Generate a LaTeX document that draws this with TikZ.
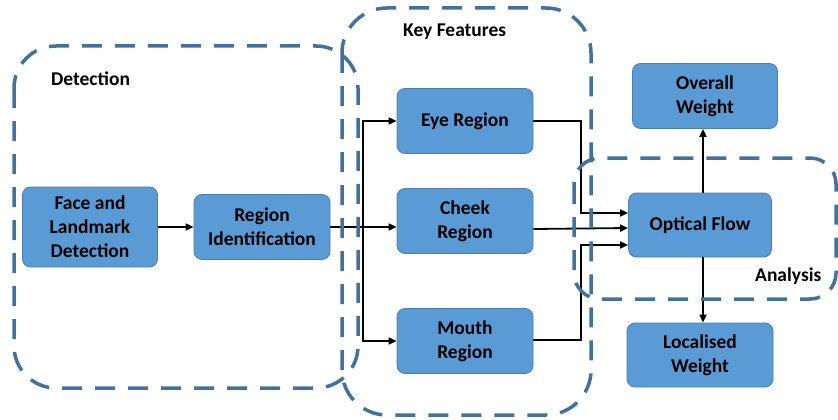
\documentclass[tikz,border=0pt]{standalone}
\usepackage{fontspec}
\setmainfont{Carlito}
\usetikzlibrary{arrows.meta}
\definecolor{boxfill}{HTML}{5B9BD5}
\definecolor{boxedge}{HTML}{4A7EB0}
\definecolor{groupedge}{HTML}{41719C}
\begin{document}
\begin{tikzpicture}[x=1pt,y=-1pt,
  stage/.style={draw=boxedge, line width=0.8pt, fill=boxfill, rounded corners=8pt,
    align=center, font=\fontsize{19.5}{24}\selectfont\bfseries, inner sep=0pt},
  group/.style={draw=groupedge, line width=3.5pt, dash pattern=on 20pt off 13pt},
  flow/.style={draw=black, line width=1.8pt, -{Triangle[length=8pt,width=7pt]}},
  grouplabel/.style={font=\fontsize{19.5}{24}\selectfont\bfseries, inner sep=0pt}]
\useasboundingbox (0,0) rectangle (838,420);

% processing stages
\node[stage, minimum width=135pt, minimum height=80pt] (face) at (90,227) {Face and\\Landmark\\Detection};
\node[stage, minimum width=136pt, minimum height=65pt] (ident) at (262,227) {Region\\Identification};
\node[stage, minimum width=136pt, minimum height=65pt] (eye) at (465,121) {Eye Region};
\node[stage, minimum width=136pt, minimum height=65pt] (cheek) at (465,221) {Cheek\\Region};
\node[stage, minimum width=136pt, minimum height=65pt] (mouth) at (465,341) {Mouth\\Region};
\node[stage, minimum width=143pt, minimum height=64pt] (optic) at (700,225) {Optical Flow};
\node[stage, minimum width=145pt, minimum height=65pt] (overall) at (705,96) {Overall\\Weight};
\node[stage, minimum width=146pt, minimum height=64pt] (local) at (700,355) {Localised\\Weight};

% branch points
\coordinate (split) at (363,227);
\coordinate (mergeA) at (581,121);
\coordinate (mergeB) at (581,340);

% connectors
\draw[flow] (face.east) -- (ident.east -| ident.west);
\draw[flow] (ident.east) -- (ident.east -| cheek.west);
\draw[flow] (split) |- (eye.west);
\draw[flow] (split) |- (mouth.west);
\draw[flow] (eye.east) -- (mergeA) |- ([yshift=12pt]optic.west);
\draw[flow] ([yshift=-8pt]cheek.east) -- ([yshift=-3pt]optic.west);
\draw[flow] (mouth.east |- mergeB) -- (mergeB) |- ([yshift=-20pt]optic.west);
\draw[flow] (optic.north -| 703,0) -- (overall.south -| 703,0);
\draw[flow] (optic.south -| 703,0) -- (local.north -| 703,0);

% dashed groupings
\draw[group, rounded corners=42pt] (14,46) rectangle (358,388);
\draw[group, rounded corners=45pt] (342,8) rectangle (591,415);
\draw[group, rounded corners=26pt] (574,158) rectangle (836,299);

\node[grouplabel, anchor=west] (detlabel) at (51,79) {Detection};
\node[grouplabel, anchor=west] (keylabel) at (403,32) {Key Features};
\node[grouplabel, anchor=west] (analabel) at (755,276) {Analysis};
\end{tikzpicture}
\end{document}
